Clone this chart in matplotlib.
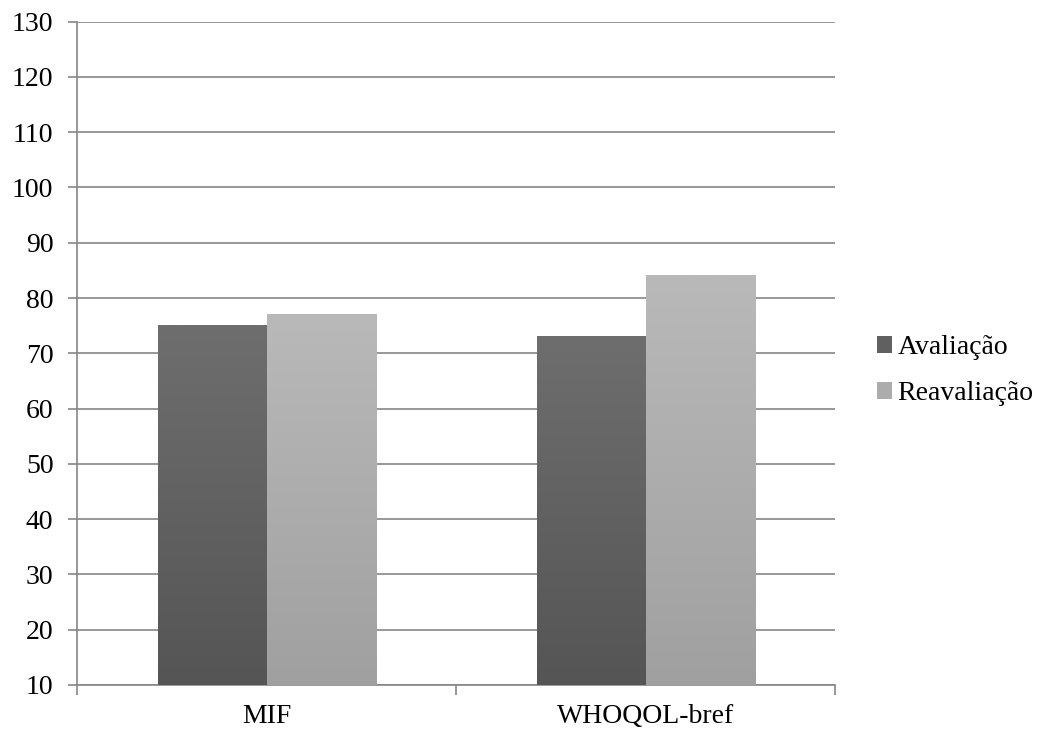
import numpy as np
import matplotlib.pyplot as plt
from matplotlib.colors import LinearSegmentedColormap

# dados
categorias = ['MIF', 'WHOQOL-bref']
avaliacao = [75, 73]
reavaliacao = [77, 84]
series = ['Avaliação', 'Reavaliação']

plt.rcParams['font.family'] = ['Liberation Serif', 'DejaVu Serif']

fig = plt.figure(figsize=(10.37, 7.33), dpi=100)
ax = fig.add_axes([0.0743, 0.0655, 0.731, 0.905])

x = np.arange(len(categorias))
largura = 0.2876
base = 10

b1 = ax.bar(x - largura / 2, np.array(avaliacao) - base, largura, bottom=base,
            color='#606060', label=series[0], zorder=3)
b2 = ax.bar(x + largura / 2, np.array(reavaliacao) - base, largura, bottom=base,
            color='#acacac', label=series[1], zorder=3)

# gradiente vertical em cada barra
grad = np.linspace(0, 1, 256).reshape(-1, 1)
cm_esc = LinearSegmentedColormap.from_list('esc', ['#555555', '#6e6e6e'])
cm_cla = LinearSegmentedColormap.from_list('cla', ['#a0a0a0', '#b9b9b9'])
for barras, cm in [(b1, cm_esc), (b2, cm_cla)]:
    for p in barras:
        x0, y0 = p.get_x(), p.get_y()
        ax.imshow(grad, cmap=cm, origin='lower', aspect='auto', zorder=4,
                  extent=[x0, x0 + p.get_width(), y0, y0 + p.get_height()])

ax.set_xlim(-0.5, 1.5)
ax.set_ylim(10, 130)
ax.set_yticks(range(10, 131, 10))
ax.set_xticks(x)
ax.set_xticklabels(categorias)
ax.set_xticks([-0.5, 0.5, 1.5], minor=True)

ax.yaxis.grid(True, color='#868686', linewidth=1.2, zorder=0)
ax.set_axisbelow(True)
for s in ['top', 'right']:
    ax.spines[s].set_visible(False)
for s in ['left', 'bottom']:
    ax.spines[s].set_color('#868686')
    ax.spines[s].set_linewidth(1.2)

ax.tick_params(axis='y', length=6.5, width=1.2, color='#868686', labelsize=20, pad=10.5)
ax.tick_params(axis='x', which='major', length=0, labelsize=20, pad=14)
ax.tick_params(axis='x', which='minor', length=7, width=1.2, color='#868686')

leg = ax.legend(loc='center left', bbox_to_anchor=(1.055, 0.474), frameon=False,
                fontsize=20, handlelength=0.55, handleheight=0.55,
                handletextpad=0.2, labelspacing=0.75, borderaxespad=0, borderpad=0)

fig.savefig('out.png', dpi=100)
